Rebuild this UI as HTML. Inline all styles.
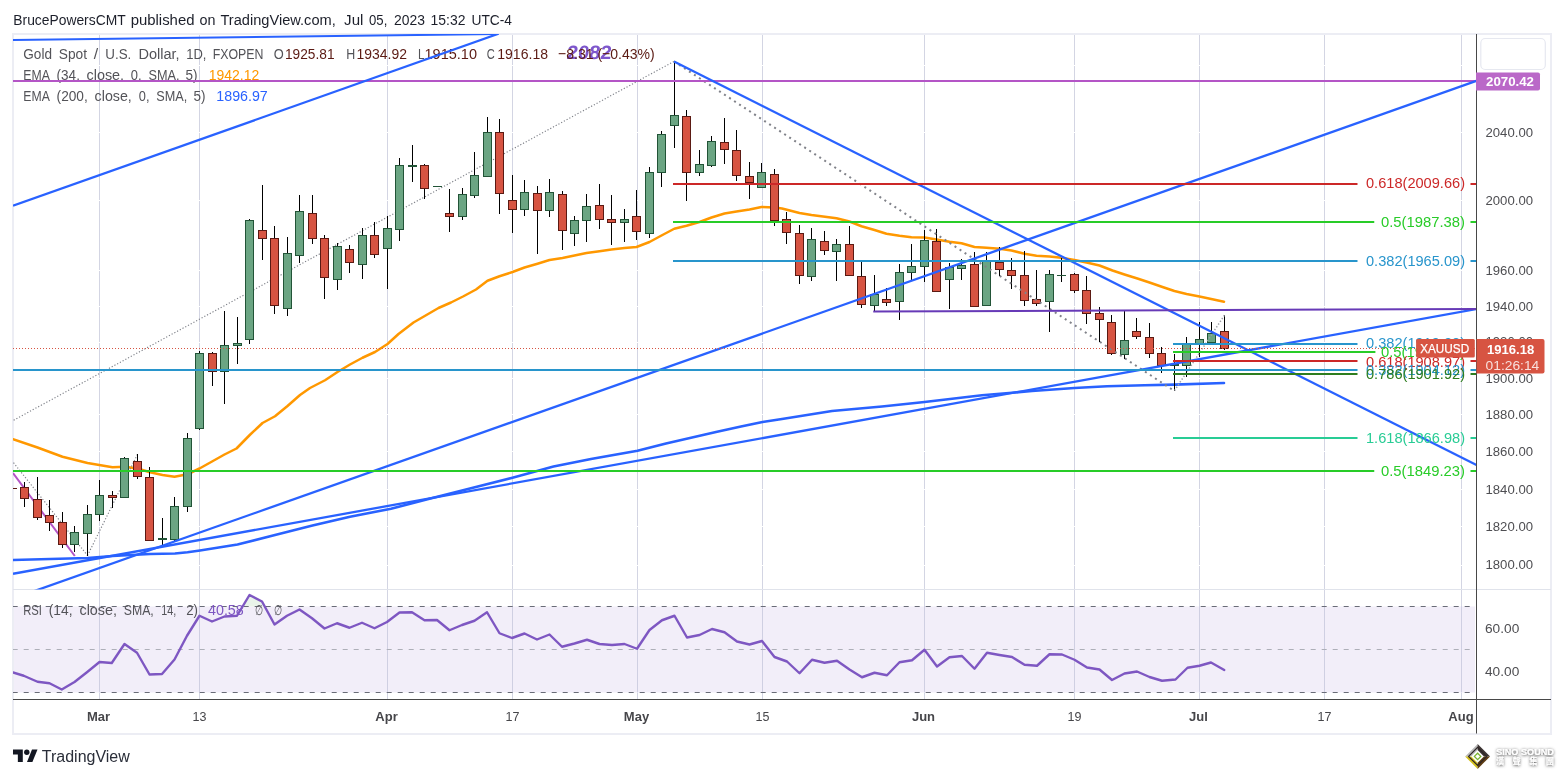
<!DOCTYPE html>
<html lang="en"><head><meta charset="utf-8"><title>XAUUSD chart</title>
<style>html,body{margin:0;padding:0;background:#fff}body{width:1564px;height:778px;position:relative;overflow:hidden}</style></head>
<body>
<svg width="1564" height="778" viewBox="0 0 1564 778" font-family="Liberation Sans, Arial, sans-serif" style="position:absolute;left:0;top:0">
<defs><clipPath id="main"><rect x="13" y="34" width="1463" height="555.5"/></clipPath><clipPath id="rsi"><rect x="13" y="590" width="1463" height="109"/></clipPath></defs>
<text x="13.3" y="24.5" font-size="14" fill="#1c1f2a" textLength="112.38" lengthAdjust="spacingAndGlyphs" >BrucePowersCMT</text>
<text x="130.66" y="24.5" font-size="14" fill="#1c1f2a" textLength="63.84" lengthAdjust="spacingAndGlyphs" >published</text>
<text x="199.49" y="24.5" font-size="14" fill="#1c1f2a" textLength="15.96" lengthAdjust="spacingAndGlyphs" >on</text>
<text x="220.43" y="24.5" font-size="14" fill="#1c1f2a" textLength="115.37" lengthAdjust="spacingAndGlyphs" >TradingView.com,</text>
<text x="344.12" y="24.5" font-size="14" fill="#1c1f2a" textLength="19.28" lengthAdjust="spacingAndGlyphs" >Jul</text>
<text x="369.05" y="24.5" font-size="14" fill="#1c1f2a" textLength="18.29" lengthAdjust="spacingAndGlyphs" >05,</text>
<text x="393.99" y="24.5" font-size="14" fill="#1c1f2a" textLength="30.92" lengthAdjust="spacingAndGlyphs" >2023</text>
<text x="430.56" y="24.5" font-size="14" fill="#1c1f2a" textLength="34.91" lengthAdjust="spacingAndGlyphs" >15:32</text>
<text x="471.46" y="24.5" font-size="14" fill="#1c1f2a" textLength="40.56" lengthAdjust="spacingAndGlyphs" >UTC-4</text>
<rect x="13" y="34" width="1538" height="700" fill="#fff" stroke="#ecedf4" stroke-width="2"/>
<line x1="99.5" y1="35" x2="99.5" y2="699" stroke="#d3d5e3" stroke-width="1"/>
<line x1="199.5" y1="35" x2="199.5" y2="699" stroke="#d3d5e3" stroke-width="1"/>
<line x1="387.5" y1="35" x2="387.5" y2="699" stroke="#d3d5e3" stroke-width="1"/>
<line x1="512.5" y1="35" x2="512.5" y2="699" stroke="#d3d5e3" stroke-width="1"/>
<line x1="637.5" y1="35" x2="637.5" y2="699" stroke="#d3d5e3" stroke-width="1"/>
<line x1="762.5" y1="35" x2="762.5" y2="699" stroke="#d3d5e3" stroke-width="1"/>
<line x1="924.5" y1="35" x2="924.5" y2="699" stroke="#d3d5e3" stroke-width="1"/>
<line x1="1074.5" y1="35" x2="1074.5" y2="699" stroke="#d3d5e3" stroke-width="1"/>
<line x1="1199.5" y1="35" x2="1199.5" y2="699" stroke="#d3d5e3" stroke-width="1"/>
<line x1="1324.5" y1="35" x2="1324.5" y2="699" stroke="#d3d5e3" stroke-width="1"/>
<line x1="1461.5" y1="35" x2="1461.5" y2="699" stroke="#d3d5e3" stroke-width="1"/>
<line x1="14" y1="65.5" x2="1476" y2="65.5" stroke="#fff" stroke-width="1"/>
<line x1="14" y1="132.5" x2="1476" y2="132.5" stroke="#fff" stroke-width="1"/>
<line x1="14" y1="200.5" x2="1476" y2="200.5" stroke="#fff" stroke-width="1"/>
<line x1="14" y1="270.5" x2="1476" y2="270.5" stroke="#fff" stroke-width="1"/>
<line x1="14" y1="306.5" x2="1476" y2="306.5" stroke="#fff" stroke-width="1"/>
<line x1="14" y1="342.5" x2="1476" y2="342.5" stroke="#fff" stroke-width="1"/>
<line x1="14" y1="378.5" x2="1476" y2="378.5" stroke="#fff" stroke-width="1"/>
<line x1="14" y1="414.5" x2="1476" y2="414.5" stroke="#fff" stroke-width="1"/>
<line x1="14" y1="451.5" x2="1476" y2="451.5" stroke="#fff" stroke-width="1"/>
<line x1="14" y1="489.5" x2="1476" y2="489.5" stroke="#fff" stroke-width="1"/>
<line x1="14" y1="526.5" x2="1476" y2="526.5" stroke="#fff" stroke-width="1"/>
<line x1="14" y1="565.5" x2="1476" y2="565.5" stroke="#fff" stroke-width="1"/>
<line x1="14" y1="628.5" x2="1476" y2="628.5" stroke="#fff" stroke-width="1"/>
<line x1="14" y1="671.5" x2="1476" y2="671.5" stroke="#fff" stroke-width="1"/>
<line x1="13" y1="589.5" x2="1551" y2="589.5" stroke="#e0e3eb" stroke-width="1"/>
<g transform="translate(566.3,58.9) skewX(-7)">
<text x="0" y="0" font-size="19.3" fill="#7349c8" font-weight="700" textLength="44.5" lengthAdjust="spacingAndGlyphs" fill-opacity="0.92">2082</text>
</g>
<text x="23.3" y="59" font-size="15.4" fill="#535358" textLength="28.7" lengthAdjust="spacingAndGlyphs" >Gold</text>
<text x="58.75" y="59" font-size="15.4" fill="#535358" textLength="28.25" lengthAdjust="spacingAndGlyphs" >Spot</text>
<text x="93.7" y="59" font-size="15.4" fill="#535358" textLength="4.4" lengthAdjust="spacingAndGlyphs" >/</text>
<text x="105.3" y="59" font-size="15.4" fill="#535358" textLength="26.0" lengthAdjust="spacingAndGlyphs" >U.S.</text>
<text x="138.4" y="59" font-size="15.4" fill="#535358" textLength="41.2" lengthAdjust="spacingAndGlyphs" >Dollar,</text>
<text x="186.2" y="59" font-size="15.4" fill="#535358" textLength="20.2" lengthAdjust="spacingAndGlyphs" >1D,</text>
<text x="212.7" y="59" font-size="15.4" fill="#535358" textLength="50.8" lengthAdjust="spacingAndGlyphs" >FXOPEN</text>
<text x="273.75" y="59" font-size="15.4" fill="#535358" textLength="10" lengthAdjust="spacingAndGlyphs" >O</text>
<text x="285" y="59" font-size="15.4" fill="#5b1a13" textLength="49.5" lengthAdjust="spacingAndGlyphs" >1925.81</text>
<text x="346.25" y="59" font-size="15.4" fill="#535358" textLength="9" lengthAdjust="spacingAndGlyphs" >H</text>
<text x="356.5" y="59" font-size="15.4" fill="#5b1a13" textLength="50.5" lengthAdjust="spacingAndGlyphs" >1934.92</text>
<text x="418" y="59" font-size="15.4" fill="#535358" textLength="6.5" lengthAdjust="spacingAndGlyphs" >L</text>
<text x="424.5" y="59" font-size="15.4" fill="#5b1a13" textLength="52.5" lengthAdjust="spacingAndGlyphs" >1915.10</text>
<text x="486.75" y="59" font-size="15.4" fill="#535358" textLength="8" lengthAdjust="spacingAndGlyphs" >C</text>
<text x="497.25" y="59" font-size="15.4" fill="#5b1a13" textLength="50.75" lengthAdjust="spacingAndGlyphs" >1916.18</text>
<text x="558" y="59" font-size="15.4" fill="#5b1a13" textLength="96.75" lengthAdjust="spacingAndGlyphs" >−8.31 (−0.43%)</text>
<text x="23.3" y="79.5" font-size="14" fill="#535358" textLength="26.5" lengthAdjust="spacingAndGlyphs" >EMA</text>
<text x="56.6" y="79.5" font-size="14" fill="#535358" textLength="23.3" lengthAdjust="spacingAndGlyphs" >(34,</text>
<text x="86.5" y="79.5" font-size="14" fill="#535358" textLength="37.6" lengthAdjust="spacingAndGlyphs" >close,</text>
<text x="130.7" y="79.5" font-size="14" fill="#535358" textLength="10.8" lengthAdjust="spacingAndGlyphs" >0,</text>
<text x="148.6" y="79.5" font-size="14" fill="#535358" textLength="31.0" lengthAdjust="spacingAndGlyphs" >SMA,</text>
<text x="185.5" y="79.5" font-size="14" fill="#535358" textLength="12.0" lengthAdjust="spacingAndGlyphs" >5)</text>
<text x="208.8" y="79.5" font-size="14" fill="#ff9800" textLength="50.5" lengthAdjust="spacingAndGlyphs" >1942.12</text>
<text x="23.3" y="100.5" font-size="14" fill="#535358" textLength="26.5" lengthAdjust="spacingAndGlyphs" >EMA</text>
<text x="56.6" y="100.5" font-size="14" fill="#535358" textLength="31.2" lengthAdjust="spacingAndGlyphs" >(200,</text>
<text x="94.6" y="100.5" font-size="14" fill="#535358" textLength="37.2" lengthAdjust="spacingAndGlyphs" >close,</text>
<text x="138.8" y="100.5" font-size="14" fill="#535358" textLength="10.7" lengthAdjust="spacingAndGlyphs" >0,</text>
<text x="156.3" y="100.5" font-size="14" fill="#535358" textLength="31.0" lengthAdjust="spacingAndGlyphs" >SMA,</text>
<text x="193.6" y="100.5" font-size="14" fill="#535358" textLength="12.0" lengthAdjust="spacingAndGlyphs" >5)</text>
<text x="216.3" y="100.5" font-size="14" fill="#2962ff" textLength="51.5" lengthAdjust="spacingAndGlyphs" >1896.97</text>
<g clip-path="url(#main)">
<polyline fill="none" stroke="#ff9800" stroke-width="2.5" stroke-linejoin="round" stroke-linecap="round"  points="13,439.25 37.5,447.5 62.5,456.75 87.5,463 112.5,467.25 125,466.75 137.5,468.5 150,472.25 162.5,475 174.5,476.75 187.5,474.25 199.5,468.5 212.5,461.25 224.5,454.5 236.5,448.5 250,434.75 262.5,423 275,416.25 287.5,406 300,395 310,388 325,380.25 337.5,372 350,364.5 362.5,357.75 375,352 387.5,344 398.5,334 413.5,322.5 438.5,308 451,302.5 463.5,296.25 476,289.5 487.5,280.75 499.5,276.25 512.5,272 524.5,267.5 537.5,263.75 549.5,260 562.5,258 574.5,255.5 586.5,253 599.5,251.25 611.5,249.5 624.5,248 636.5,247 649.5,242 661.5,235.5 674.25,228.75 686.5,225.75 699.5,222 711.5,217.5 724.5,213.5 736.5,211.5 749.5,209.5 761.5,207 774.5,207.5 782,208.5 799.5,213 811.5,215 836.5,218.25 849.5,221.5 861.5,226.25 874.5,230 886.5,233.75 899.5,235.75 911.5,237.25 924.5,237.5 936.5,239.5 949.5,241.75 961.5,243.25 974.5,247 986.5,247.75 999.5,248.75 1011.5,250.5 1024.5,253.75 1036.5,255.75 1049.5,256.5 1061.5,257.75 1074.5,260 1086.5,262.5 1099.5,265.5 1112.5,270.5 1124.5,274.5 1137.4,278.5 1149.5,282.5 1162.5,287 1174.4,291 1186.6,294 1199.5,296.5 1212.4,299.2 1224,301.7"/>
<polyline fill="none" stroke="#2962ff" stroke-width="2.6" stroke-linejoin="round" stroke-linecap="round"  points="13,560 87.5,558 112.5,556 150,554 175,553.5 187.5,552.25 200,550.5 237.5,544.5 275,535 312.5,525.5 350,516.75 391,508.75 428.5,499 466,489.5 512.5,477.75 553.5,466.5 591,459 637.5,450.75 666,443.5 691,437.75 716,432 741,426.5 762.5,422 782,419 832,411 882,406.5 924.5,402 982,395.25 1032,391 1074.5,388 1107,386.3 1144.5,385.3 1174.4,384.6 1224,383"/>
<line x1="0" y1="427.6" x2="674" y2="61.4" stroke="#7e8088" stroke-width="1.15" stroke-dasharray="1.2 1.9"/>
<line x1="0" y1="445.7" x2="87.5" y2="555.5" stroke="#7e8088" stroke-width="1.15" stroke-dasharray="1.2 1.9"/>
<line x1="87.5" y1="555.5" x2="137.5" y2="454.25" stroke="#7e8088" stroke-width="1.15" stroke-dasharray="1.2 1.9"/>
<line x1="13" y1="473" x2="74.8" y2="556" stroke="#b455c6" stroke-width="2" />
<rect x="13" y="488" width="4" height="1" fill="#5b1a13"/>
<rect x="24" y="482" width="1" height="25" fill="#000"/>
<rect x="20.5" y="487.5" width="8" height="11" fill="#d75442" stroke="#5b1a13" stroke-width="1"/>
<rect x="37" y="477" width="1" height="43" fill="#000"/>
<rect x="33.5" y="499.5" width="8" height="18" fill="#d75442" stroke="#5b1a13" stroke-width="1"/>
<rect x="49" y="500" width="1" height="31" fill="#000"/>
<rect x="45.5" y="515.5" width="8" height="7" fill="#d75442" stroke="#5b1a13" stroke-width="1"/>
<rect x="62" y="512" width="1" height="36" fill="#000"/>
<rect x="58.5" y="522.5" width="8" height="22" fill="#d75442" stroke="#5b1a13" stroke-width="1"/>
<rect x="74" y="526" width="1" height="26" fill="#000"/>
<rect x="70.5" y="532.5" width="8" height="12" fill="#6ba583" stroke="#225437" stroke-width="1"/>
<rect x="87" y="505" width="1" height="51" fill="#000"/>
<rect x="83.5" y="514.5" width="8" height="19" fill="#6ba583" stroke="#225437" stroke-width="1"/>
<rect x="99" y="480" width="1" height="41" fill="#000"/>
<rect x="95.5" y="495.5" width="8" height="19" fill="#6ba583" stroke="#225437" stroke-width="1"/>
<rect x="112" y="491" width="1" height="17" fill="#000"/>
<rect x="108.5" y="495.5" width="8" height="2" fill="#d75442" stroke="#5b1a13" stroke-width="1"/>
<rect x="124" y="457" width="1" height="41" fill="#000"/>
<rect x="120.5" y="458.5" width="8" height="39" fill="#6ba583" stroke="#225437" stroke-width="1"/>
<rect x="137" y="454" width="1" height="25" fill="#000"/>
<rect x="133.5" y="461.5" width="8" height="15" fill="#d75442" stroke="#5b1a13" stroke-width="1"/>
<rect x="149" y="467" width="1" height="74" fill="#000"/>
<rect x="145.5" y="477.5" width="8" height="63" fill="#d75442" stroke="#5b1a13" stroke-width="1"/>
<rect x="162" y="518" width="1" height="28" fill="#000"/>
<rect x="158" y="538" width="9" height="2" fill="#225437"/>
<rect x="174" y="497" width="1" height="44" fill="#000"/>
<rect x="170.5" y="506.5" width="8" height="33" fill="#6ba583" stroke="#225437" stroke-width="1"/>
<rect x="187" y="433" width="1" height="79" fill="#000"/>
<rect x="183.5" y="438.5" width="8" height="68" fill="#6ba583" stroke="#225437" stroke-width="1"/>
<rect x="199" y="351" width="1" height="79" fill="#000"/>
<rect x="195.5" y="353.5" width="8" height="75" fill="#6ba583" stroke="#225437" stroke-width="1"/>
<rect x="212" y="352" width="1" height="34" fill="#000"/>
<rect x="208.5" y="353.5" width="8" height="18" fill="#d75442" stroke="#5b1a13" stroke-width="1"/>
<rect x="224" y="311" width="1" height="93" fill="#000"/>
<rect x="220.5" y="345.5" width="8" height="26" fill="#6ba583" stroke="#225437" stroke-width="1"/>
<rect x="237" y="317" width="1" height="47" fill="#000"/>
<rect x="233.5" y="343.5" width="8" height="2" fill="#6ba583" stroke="#225437" stroke-width="1"/>
<rect x="249" y="219" width="1" height="125" fill="#000"/>
<rect x="245.5" y="220.5" width="8" height="119" fill="#6ba583" stroke="#225437" stroke-width="1"/>
<rect x="262" y="185" width="1" height="75" fill="#000"/>
<rect x="258.5" y="230.5" width="8" height="8" fill="#d75442" stroke="#5b1a13" stroke-width="1"/>
<rect x="274" y="226" width="1" height="88" fill="#000"/>
<rect x="270.5" y="238.5" width="8" height="67" fill="#d75442" stroke="#5b1a13" stroke-width="1"/>
<rect x="287" y="237" width="1" height="79" fill="#000"/>
<rect x="283.5" y="253.5" width="8" height="55" fill="#6ba583" stroke="#225437" stroke-width="1"/>
<rect x="299" y="195" width="1" height="68" fill="#000"/>
<rect x="295.5" y="211.5" width="8" height="44" fill="#6ba583" stroke="#225437" stroke-width="1"/>
<rect x="312" y="195" width="1" height="49" fill="#000"/>
<rect x="308.5" y="213.5" width="8" height="25" fill="#d75442" stroke="#5b1a13" stroke-width="1"/>
<rect x="324" y="235" width="1" height="64" fill="#000"/>
<rect x="320.5" y="238.5" width="8" height="39" fill="#d75442" stroke="#5b1a13" stroke-width="1"/>
<rect x="337" y="243" width="1" height="47" fill="#000"/>
<rect x="333.5" y="246.5" width="8" height="33" fill="#6ba583" stroke="#225437" stroke-width="1"/>
<rect x="349" y="245" width="1" height="28" fill="#000"/>
<rect x="345.5" y="249.5" width="8" height="13" fill="#d75442" stroke="#5b1a13" stroke-width="1"/>
<rect x="362" y="228" width="1" height="51" fill="#000"/>
<rect x="358.5" y="235.5" width="8" height="29" fill="#6ba583" stroke="#225437" stroke-width="1"/>
<rect x="374" y="222" width="1" height="36" fill="#000"/>
<rect x="370.5" y="235.5" width="8" height="19" fill="#d75442" stroke="#5b1a13" stroke-width="1"/>
<rect x="387" y="216" width="1" height="73" fill="#000"/>
<rect x="383.5" y="228.5" width="8" height="20" fill="#6ba583" stroke="#225437" stroke-width="1"/>
<rect x="399" y="158" width="1" height="83" fill="#000"/>
<rect x="395.5" y="165.5" width="8" height="64" fill="#6ba583" stroke="#225437" stroke-width="1"/>
<rect x="412" y="145" width="1" height="37" fill="#000"/>
<rect x="408" y="165" width="9" height="2" fill="#225437"/>
<rect x="424" y="164" width="1" height="35" fill="#000"/>
<rect x="420.5" y="165.5" width="8" height="23" fill="#d75442" stroke="#5b1a13" stroke-width="1"/>
<rect x="437" y="186" width="1" height="1" fill="#000"/>
<rect x="433" y="186" width="9" height="1" fill="#225437"/>
<rect x="449" y="189" width="1" height="43" fill="#000"/>
<rect x="445.5" y="213.5" width="8" height="3" fill="#d75442" stroke="#5b1a13" stroke-width="1"/>
<rect x="462" y="188" width="1" height="32" fill="#000"/>
<rect x="458.5" y="194.5" width="8" height="22" fill="#6ba583" stroke="#225437" stroke-width="1"/>
<rect x="474" y="152" width="1" height="46" fill="#000"/>
<rect x="470.5" y="175.5" width="8" height="20" fill="#6ba583" stroke="#225437" stroke-width="1"/>
<rect x="487" y="117" width="1" height="60" fill="#000"/>
<rect x="483.5" y="132.5" width="8" height="44" fill="#6ba583" stroke="#225437" stroke-width="1"/>
<rect x="499" y="119" width="1" height="95" fill="#000"/>
<rect x="495.5" y="132.5" width="8" height="61" fill="#d75442" stroke="#5b1a13" stroke-width="1"/>
<rect x="512" y="175" width="1" height="58" fill="#000"/>
<rect x="508.5" y="200.5" width="8" height="9" fill="#d75442" stroke="#5b1a13" stroke-width="1"/>
<rect x="524" y="180" width="1" height="36" fill="#000"/>
<rect x="520.5" y="192.5" width="8" height="17" fill="#6ba583" stroke="#225437" stroke-width="1"/>
<rect x="537" y="186" width="1" height="68" fill="#000"/>
<rect x="533.5" y="193.5" width="8" height="17" fill="#d75442" stroke="#5b1a13" stroke-width="1"/>
<rect x="549" y="179" width="1" height="38" fill="#000"/>
<rect x="545.5" y="192.5" width="8" height="18" fill="#6ba583" stroke="#225437" stroke-width="1"/>
<rect x="562" y="191" width="1" height="59" fill="#000"/>
<rect x="558.5" y="194.5" width="8" height="36" fill="#d75442" stroke="#5b1a13" stroke-width="1"/>
<rect x="574" y="216" width="1" height="30" fill="#000"/>
<rect x="570.5" y="220.5" width="8" height="13" fill="#6ba583" stroke="#225437" stroke-width="1"/>
<rect x="586" y="194" width="1" height="48" fill="#000"/>
<rect x="582.5" y="206.5" width="8" height="14" fill="#6ba583" stroke="#225437" stroke-width="1"/>
<rect x="599" y="184" width="1" height="45" fill="#000"/>
<rect x="595.5" y="205.5" width="8" height="14" fill="#d75442" stroke="#5b1a13" stroke-width="1"/>
<rect x="611" y="195" width="1" height="50" fill="#000"/>
<rect x="607.5" y="219.5" width="8" height="3" fill="#d75442" stroke="#5b1a13" stroke-width="1"/>
<rect x="624" y="209" width="1" height="33" fill="#000"/>
<rect x="620.5" y="219.5" width="8" height="3" fill="#6ba583" stroke="#225437" stroke-width="1"/>
<rect x="636" y="190" width="1" height="50" fill="#000"/>
<rect x="632.5" y="216.5" width="8" height="15" fill="#d75442" stroke="#5b1a13" stroke-width="1"/>
<rect x="649" y="167" width="1" height="71" fill="#000"/>
<rect x="645.5" y="172.5" width="8" height="61" fill="#6ba583" stroke="#225437" stroke-width="1"/>
<rect x="661" y="131" width="1" height="56" fill="#000"/>
<rect x="657.5" y="134.5" width="8" height="38" fill="#6ba583" stroke="#225437" stroke-width="1"/>
<rect x="674" y="61" width="1" height="87" fill="#000"/>
<rect x="670.5" y="115.5" width="8" height="10" fill="#6ba583" stroke="#225437" stroke-width="1"/>
<rect x="686" y="110" width="1" height="91" fill="#000"/>
<rect x="682.5" y="116.5" width="8" height="56" fill="#d75442" stroke="#5b1a13" stroke-width="1"/>
<rect x="699" y="150" width="1" height="26" fill="#000"/>
<rect x="695.5" y="164.5" width="8" height="8" fill="#6ba583" stroke="#225437" stroke-width="1"/>
<rect x="711" y="136" width="1" height="31" fill="#000"/>
<rect x="707.5" y="141.5" width="8" height="24" fill="#6ba583" stroke="#225437" stroke-width="1"/>
<rect x="724" y="118" width="1" height="46" fill="#000"/>
<rect x="720.5" y="142.5" width="8" height="7" fill="#d75442" stroke="#5b1a13" stroke-width="1"/>
<rect x="736" y="130" width="1" height="51" fill="#000"/>
<rect x="732.5" y="150.5" width="8" height="25" fill="#d75442" stroke="#5b1a13" stroke-width="1"/>
<rect x="749" y="162" width="1" height="37" fill="#000"/>
<rect x="745.5" y="176.5" width="8" height="6" fill="#d75442" stroke="#5b1a13" stroke-width="1"/>
<rect x="761" y="163" width="1" height="25" fill="#000"/>
<rect x="757.5" y="172.5" width="8" height="15" fill="#6ba583" stroke="#225437" stroke-width="1"/>
<rect x="774" y="169" width="1" height="57" fill="#000"/>
<rect x="770.5" y="174.5" width="8" height="46" fill="#d75442" stroke="#5b1a13" stroke-width="1"/>
<rect x="786" y="212" width="1" height="32" fill="#000"/>
<rect x="782.5" y="219.5" width="8" height="13" fill="#d75442" stroke="#5b1a13" stroke-width="1"/>
<rect x="799" y="225" width="1" height="59" fill="#000"/>
<rect x="795.5" y="233.5" width="8" height="42" fill="#d75442" stroke="#5b1a13" stroke-width="1"/>
<rect x="811" y="228" width="1" height="53" fill="#000"/>
<rect x="807.5" y="239.5" width="8" height="37" fill="#6ba583" stroke="#225437" stroke-width="1"/>
<rect x="824" y="231" width="1" height="24" fill="#000"/>
<rect x="820.5" y="241.5" width="8" height="9" fill="#d75442" stroke="#5b1a13" stroke-width="1"/>
<rect x="836" y="239" width="1" height="42" fill="#000"/>
<rect x="832.5" y="244.5" width="8" height="7" fill="#6ba583" stroke="#225437" stroke-width="1"/>
<rect x="849" y="226" width="1" height="50" fill="#000"/>
<rect x="845.5" y="244.5" width="8" height="31" fill="#d75442" stroke="#5b1a13" stroke-width="1"/>
<rect x="861" y="262" width="1" height="46" fill="#000"/>
<rect x="857.5" y="276.5" width="8" height="28" fill="#d75442" stroke="#5b1a13" stroke-width="1"/>
<rect x="874" y="275" width="1" height="36" fill="#000"/>
<rect x="870.5" y="294.5" width="8" height="11" fill="#6ba583" stroke="#225437" stroke-width="1"/>
<rect x="886" y="288" width="1" height="18" fill="#000"/>
<rect x="882.5" y="299.5" width="8" height="3" fill="#d75442" stroke="#5b1a13" stroke-width="1"/>
<rect x="899" y="264" width="1" height="56" fill="#000"/>
<rect x="895.5" y="272.5" width="8" height="29" fill="#6ba583" stroke="#225437" stroke-width="1"/>
<rect x="911" y="244" width="1" height="36" fill="#000"/>
<rect x="907.5" y="266.5" width="8" height="6" fill="#6ba583" stroke="#225437" stroke-width="1"/>
<rect x="924" y="230" width="1" height="52" fill="#000"/>
<rect x="920.5" y="240.5" width="8" height="26" fill="#6ba583" stroke="#225437" stroke-width="1"/>
<rect x="936" y="229" width="1" height="63" fill="#000"/>
<rect x="932.5" y="241.5" width="8" height="50" fill="#d75442" stroke="#5b1a13" stroke-width="1"/>
<rect x="949" y="263" width="1" height="46" fill="#000"/>
<rect x="945.5" y="267.5" width="8" height="12" fill="#6ba583" stroke="#225437" stroke-width="1"/>
<rect x="961" y="259" width="1" height="21" fill="#000"/>
<rect x="957.5" y="265.5" width="8" height="3" fill="#6ba583" stroke="#225437" stroke-width="1"/>
<rect x="974" y="252" width="1" height="55" fill="#000"/>
<rect x="970.5" y="264.5" width="8" height="42" fill="#d75442" stroke="#5b1a13" stroke-width="1"/>
<rect x="986" y="252" width="1" height="54" fill="#000"/>
<rect x="982.5" y="261.5" width="8" height="44" fill="#6ba583" stroke="#225437" stroke-width="1"/>
<rect x="999" y="247" width="1" height="29" fill="#000"/>
<rect x="995.5" y="262.5" width="8" height="7" fill="#d75442" stroke="#5b1a13" stroke-width="1"/>
<rect x="1011" y="258" width="1" height="31" fill="#000"/>
<rect x="1007.5" y="270.5" width="8" height="5" fill="#d75442" stroke="#5b1a13" stroke-width="1"/>
<rect x="1024" y="251" width="1" height="55" fill="#000"/>
<rect x="1020.5" y="275.5" width="8" height="25" fill="#d75442" stroke="#5b1a13" stroke-width="1"/>
<rect x="1036" y="270" width="1" height="36" fill="#000"/>
<rect x="1032.5" y="299.5" width="8" height="4" fill="#d75442" stroke="#5b1a13" stroke-width="1"/>
<rect x="1049" y="270" width="1" height="62" fill="#000"/>
<rect x="1045.5" y="274.5" width="8" height="27" fill="#6ba583" stroke="#225437" stroke-width="1"/>
<rect x="1061" y="258" width="1" height="24" fill="#000"/>
<rect x="1057" y="275" width="9" height="1" fill="#225437"/>
<rect x="1074" y="273" width="1" height="20" fill="#000"/>
<rect x="1070.5" y="274.5" width="8" height="16" fill="#d75442" stroke="#5b1a13" stroke-width="1"/>
<rect x="1086" y="276" width="1" height="48" fill="#000"/>
<rect x="1082.5" y="290.5" width="8" height="23" fill="#d75442" stroke="#5b1a13" stroke-width="1"/>
<rect x="1099" y="307" width="1" height="35" fill="#000"/>
<rect x="1095.5" y="313.5" width="8" height="6" fill="#d75442" stroke="#5b1a13" stroke-width="1"/>
<rect x="1111" y="315" width="1" height="40" fill="#000"/>
<rect x="1107.5" y="322.5" width="8" height="31" fill="#d75442" stroke="#5b1a13" stroke-width="1"/>
<rect x="1124" y="311" width="1" height="48" fill="#000"/>
<rect x="1120.5" y="340.5" width="8" height="14" fill="#6ba583" stroke="#225437" stroke-width="1"/>
<rect x="1136" y="318" width="1" height="21" fill="#000"/>
<rect x="1132.5" y="331.5" width="8" height="5" fill="#d75442" stroke="#5b1a13" stroke-width="1"/>
<rect x="1149" y="323" width="1" height="35" fill="#000"/>
<rect x="1145.5" y="337.5" width="8" height="16" fill="#d75442" stroke="#5b1a13" stroke-width="1"/>
<rect x="1161" y="347" width="1" height="26" fill="#000"/>
<rect x="1157.5" y="353.5" width="8" height="12" fill="#d75442" stroke="#5b1a13" stroke-width="1"/>
<rect x="1174" y="354" width="1" height="37" fill="#000"/>
<rect x="1170" y="364" width="9" height="2" fill="#225437"/>
<rect x="1186" y="337" width="1" height="40" fill="#000"/>
<rect x="1182.5" y="344.5" width="8" height="21" fill="#6ba583" stroke="#225437" stroke-width="1"/>
<rect x="1199" y="322" width="1" height="35" fill="#000"/>
<rect x="1195.5" y="339.5" width="8" height="4" fill="#6ba583" stroke="#225437" stroke-width="1"/>
<rect x="1211" y="322" width="1" height="21" fill="#000"/>
<rect x="1207.5" y="333.5" width="8" height="9" fill="#6ba583" stroke="#225437" stroke-width="1"/>
<rect x="1224" y="315" width="1" height="35" fill="#000"/>
<rect x="1220.5" y="331.5" width="8" height="17" fill="#d75442" stroke="#5b1a13" stroke-width="1"/>
<line x1="1174.5" y1="390.7" x2="1224.5" y2="315.2" stroke="#9fa1a8" stroke-width="1.5" stroke-dasharray="1.4 1.9"/>
<line x1="674" y1="61.4" x2="1174" y2="390.7" stroke="#808289" stroke-width="2" stroke-dasharray="2 4"/>
<line x1="13" y1="81" x2="1476" y2="81" stroke="#b455c6" stroke-width="2" />
<line x1="13" y1="40" x2="498.5" y2="34" stroke="#2962ff" stroke-width="2" />
<line x1="13" y1="205.75" x2="498.5" y2="33.75" stroke="#2962ff" stroke-width="2.3" />
<line x1="13" y1="598.6" x2="1476.5" y2="80.9" stroke="#2962ff" stroke-width="2.3" />
<line x1="13" y1="573.75" x2="1476.5" y2="309" stroke="#2962ff" stroke-width="2.3" />
<line x1="674" y1="61.5" x2="1476.5" y2="465" stroke="#2962ff" stroke-width="2.3" />
<line x1="873.25" y1="311.5" x2="1476.5" y2="309" stroke="#673ab7" stroke-width="2" />
<line x1="673" y1="184" x2="1357.5" y2="184" stroke="#cc2828" stroke-width="2" />
<line x1="1470.5" y1="184" x2="1476.5" y2="184" stroke="#cc2828" stroke-width="2" />
<line x1="673" y1="222" x2="1374.25" y2="222" stroke="#28cc28" stroke-width="2" />
<line x1="1470.5" y1="222" x2="1476.5" y2="222" stroke="#28cc28" stroke-width="2" />
<line x1="673" y1="261" x2="1357.5" y2="261" stroke="#2895cc" stroke-width="2" />
<line x1="1470.5" y1="261" x2="1476.5" y2="261" stroke="#2895cc" stroke-width="2" />
<line x1="13" y1="370" x2="1357.5" y2="370" stroke="#2895cc" stroke-width="2" />
<line x1="1470.5" y1="370" x2="1476.5" y2="370" stroke="#2895cc" stroke-width="2" />
<line x1="13" y1="471" x2="1374.25" y2="471" stroke="#28cc28" stroke-width="2" />
<line x1="1470.5" y1="471" x2="1476.5" y2="471" stroke="#28cc28" stroke-width="2" />
<line x1="1173" y1="344" x2="1357.5" y2="344" stroke="#2895cc" stroke-width="2" />
<line x1="1173" y1="352" x2="1375.4" y2="352" stroke="#28cc28" stroke-width="2" />
<line x1="1173" y1="361" x2="1357.5" y2="361" stroke="#cc2828" stroke-width="2" />
<line x1="1470.5" y1="361" x2="1476.5" y2="361" stroke="#cc2828" stroke-width="2" />
<line x1="1173" y1="374" x2="1357.5" y2="374" stroke="#2e7d1e" stroke-width="2" />
<line x1="1470.5" y1="374" x2="1476.5" y2="374" stroke="#2e7d1e" stroke-width="2" />
<line x1="1173" y1="438" x2="1357.5" y2="438" stroke="#28cc95" stroke-width="2" />
<line x1="1470.5" y1="438" x2="1476.5" y2="438" stroke="#28cc95" stroke-width="2" />
<line x1="13" y1="348.5" x2="1476" y2="348.5" stroke="#d75442" stroke-width="1" stroke-dasharray="1 2"/>
<text x="1366" y="188.2" font-size="14.5" fill="#cc2828" textLength="99" lengthAdjust="spacingAndGlyphs" >0.618(2009.66)</text>
<text x="1381" y="226.95" font-size="14.5" fill="#28cc28" textLength="84" lengthAdjust="spacingAndGlyphs" >0.5(1987.38)</text>
<text x="1366" y="265.95" font-size="14.5" fill="#2895cc" textLength="99" lengthAdjust="spacingAndGlyphs" >0.382(1965.09)</text>
<text x="1366" y="348.0" font-size="14.5" fill="#2895cc" textLength="99" lengthAdjust="spacingAndGlyphs" >0.382(1919.28)</text>
<text x="1381" y="357.2" font-size="14.5" fill="#28cc28" textLength="84" lengthAdjust="spacingAndGlyphs" >0.5(1914.13)</text>
<text x="1366" y="366.5" font-size="14.5" fill="#cc2828" textLength="99" lengthAdjust="spacingAndGlyphs" >0.618(1908.97)</text>
<text x="1366" y="375.0" font-size="14.5" fill="#2895cc" textLength="99" lengthAdjust="spacingAndGlyphs" >0.382(1904.12)</text>
<text x="1366" y="379.4" font-size="14.5" fill="#2e7d1e" textLength="99" lengthAdjust="spacingAndGlyphs" >0.786(1901.92)</text>
<text x="1366" y="443.2" font-size="14.5" fill="#28cc95" textLength="99" lengthAdjust="spacingAndGlyphs" >1.618(1866.98)</text>
<text x="1381" y="475.95" font-size="14.5" fill="#28cc28" textLength="84" lengthAdjust="spacingAndGlyphs" >0.5(1849.23)</text>
</g>
<rect x="14" y="606.5" width="1461" height="86" fill="#f2eef9"/>
<line x1="99.5" y1="606" x2="99.5" y2="692" stroke="#cfcfe2" stroke-width="1"/>
<line x1="199.5" y1="606" x2="199.5" y2="692" stroke="#cfcfe2" stroke-width="1"/>
<line x1="387.5" y1="606" x2="387.5" y2="692" stroke="#cfcfe2" stroke-width="1"/>
<line x1="512.5" y1="606" x2="512.5" y2="692" stroke="#cfcfe2" stroke-width="1"/>
<line x1="637.5" y1="606" x2="637.5" y2="692" stroke="#cfcfe2" stroke-width="1"/>
<line x1="762.5" y1="606" x2="762.5" y2="692" stroke="#cfcfe2" stroke-width="1"/>
<line x1="924.5" y1="606" x2="924.5" y2="692" stroke="#cfcfe2" stroke-width="1"/>
<line x1="1074.5" y1="606" x2="1074.5" y2="692" stroke="#cfcfe2" stroke-width="1"/>
<line x1="1199.5" y1="606" x2="1199.5" y2="692" stroke="#cfcfe2" stroke-width="1"/>
<line x1="1324.5" y1="606" x2="1324.5" y2="692" stroke="#cfcfe2" stroke-width="1"/>
<line x1="1461.5" y1="606" x2="1461.5" y2="692" stroke="#cfcfe2" stroke-width="1"/>
<g clip-path="url(#rsi)">
<clipPath id="ob"><rect x="13" y="590" width="1463" height="16.5"/></clipPath>
<polygon clip-path="url(#ob)" fill="#e9f4ea" points="13,672.5 23.75,675.75 37.5,681.75 49.5,683.25 61.75,689.5 74.5,682 87.25,672 99.5,662 111.75,663 124.5,644 137,652.75 149.5,674.5 162,674 174.5,659.5 187,635.75 199.5,615.75 212,621.5 224.5,616.5 237,615.75 249.5,595 262,601.5 274.5,624.5 287,615.75 299.5,609.5 312,618.25 324.5,628.5 337,623.25 349.5,627.75 362,622.75 374.5,628.25 387,622 399.5,612.5 412,612.25 424.5,620.25 437,620 449.5,630.25 462,625 474.5,620.75 487,612.25 499.5,633.25 512,638 524.5,633.5 537,639.5 549.5,634.5 562,646.75 574.5,643.5 587,639.75 599.5,644 612,645 624.5,644 637,648.75 649.5,630 662,620.25 674.5,615.75 687,637.5 699.5,635 712,629 724.5,632.25 737,641.5 749.5,644.5 762,641 774.5,657 787,661.5 799.5,673.25 812,659.75 824.5,662.75 837,660.75 849.5,669.5 862,677.25 874.5,672.75 887,675.25 899.5,662.25 912,660.25 924.5,649.75 937,666.5 949.5,657.25 962,656 974.5,668.75 987,652.75 999.5,655 1012,657 1024.5,664.75 1037,665.75 1049.5,654.25 1062,654.5 1074.5,659.75 1087,667.5 1099.5,669.5 1112,680 1124.5,673.5 1137,671.5 1149.5,677 1162,680.75 1175.5,679.5 1187.5,667.75 1199.5,665.75 1211,662.5 1224.25,670 1224,700 13,700"/>
<line x1="12.7" y1="606.5" x2="1471" y2="606.5" stroke="#696c77" stroke-width="1" stroke-dasharray="5 6"/>
<line x1="12.7" y1="649.5" x2="1471" y2="649.5" stroke="#adafb8" stroke-width="1" stroke-dasharray="5 6"/>
<line x1="12.7" y1="692.5" x2="1471" y2="692.5" stroke="#696c77" stroke-width="1" stroke-dasharray="5 6"/>
<text x="23.25" y="614.5" font-size="14.8" fill="#535358" textLength="18.75" lengthAdjust="spacingAndGlyphs" >RSI</text>
<text x="48.75" y="614.5" font-size="14.8" fill="#535358" textLength="23.75" lengthAdjust="spacingAndGlyphs" >(14,</text>
<text x="79.5" y="614.5" font-size="14.8" fill="#535358" textLength="37.5" lengthAdjust="spacingAndGlyphs" >close,</text>
<text x="123.75" y="614.5" font-size="14.8" fill="#535358" textLength="30.0" lengthAdjust="spacingAndGlyphs" >SMA,</text>
<text x="161.25" y="614.5" font-size="14.8" fill="#535358" textLength="15.0" lengthAdjust="spacingAndGlyphs" >14,</text>
<text x="186.25" y="614.5" font-size="14.8" fill="#535358" textLength="11.75" lengthAdjust="spacingAndGlyphs" >2)</text>
<text x="208" y="614.5" font-size="14.8" fill="#7e57c2" textLength="35.75" lengthAdjust="spacingAndGlyphs" >40.58</text>
<text x="254.5" y="614.5" font-size="14" fill="#535358" textLength="8" lengthAdjust="spacingAndGlyphs" >∅</text>
<text x="273.75" y="614.5" font-size="14" fill="#535358" textLength="8" lengthAdjust="spacingAndGlyphs" >∅</text>
<polyline fill="none" stroke="#7e57c2" stroke-width="2.4" stroke-linejoin="round" stroke-linecap="round"  points="13,672.5 23.75,675.75 37.5,681.75 49.5,683.25 61.75,689.5 74.5,682 87.25,672 99.5,662 111.75,663 124.5,644 137,652.75 149.5,674.5 162,674 174.5,659.5 187,635.75 199.5,615.75 212,621.5 224.5,616.5 237,615.75 249.5,595 262,601.5 274.5,624.5 287,615.75 299.5,609.5 312,618.25 324.5,628.5 337,623.25 349.5,627.75 362,622.75 374.5,628.25 387,622 399.5,612.5 412,612.25 424.5,620.25 437,620 449.5,630.25 462,625 474.5,620.75 487,612.25 499.5,633.25 512,638 524.5,633.5 537,639.5 549.5,634.5 562,646.75 574.5,643.5 587,639.75 599.5,644 612,645 624.5,644 637,648.75 649.5,630 662,620.25 674.5,615.75 687,637.5 699.5,635 712,629 724.5,632.25 737,641.5 749.5,644.5 762,641 774.5,657 787,661.5 799.5,673.25 812,659.75 824.5,662.75 837,660.75 849.5,669.5 862,677.25 874.5,672.75 887,675.25 899.5,662.25 912,660.25 924.5,649.75 937,666.5 949.5,657.25 962,656 974.5,668.75 987,652.75 999.5,655 1012,657 1024.5,664.75 1037,665.75 1049.5,654.25 1062,654.5 1074.5,659.75 1087,667.5 1099.5,669.5 1112,680 1124.5,673.5 1137,671.5 1149.5,677 1162,680.75 1175.5,679.5 1187.5,667.75 1199.5,665.75 1211,662.5 1224.25,670"/>
</g>
<rect x="1476" y="34" width="1" height="699.5" fill="#474747"/>
<rect x="13" y="699" width="1538" height="1" fill="#474747"/>
<text x="1485.5" y="70.2" font-size="12.3" fill="#4e4e52" textLength="47.5" lengthAdjust="spacingAndGlyphs" >2080.00</text>
<text x="1485.5" y="136.9" font-size="12.3" fill="#4e4e52" textLength="47.5" lengthAdjust="spacingAndGlyphs" >2040.00</text>
<text x="1485.5" y="204.9" font-size="12.3" fill="#4e4e52" textLength="47.5" lengthAdjust="spacingAndGlyphs" >2000.00</text>
<text x="1485.5" y="274.9" font-size="12.3" fill="#4e4e52" textLength="47.5" lengthAdjust="spacingAndGlyphs" >1960.00</text>
<text x="1485.5" y="310.65" font-size="12.3" fill="#4e4e52" textLength="47.5" lengthAdjust="spacingAndGlyphs" >1940.00</text>
<text x="1485.5" y="346.4" font-size="12.3" fill="#4e4e52" textLength="47.5" lengthAdjust="spacingAndGlyphs" >1920.00</text>
<text x="1485.5" y="383.09999999999997" font-size="12.3" fill="#4e4e52" textLength="47.5" lengthAdjust="spacingAndGlyphs" >1900.00</text>
<text x="1485.5" y="418.5" font-size="12.3" fill="#4e4e52" textLength="47.5" lengthAdjust="spacingAndGlyphs" >1880.00</text>
<text x="1485.5" y="455.65" font-size="12.3" fill="#4e4e52" textLength="47.5" lengthAdjust="spacingAndGlyphs" >1860.00</text>
<text x="1485.5" y="493.65" font-size="12.3" fill="#4e4e52" textLength="47.5" lengthAdjust="spacingAndGlyphs" >1840.00</text>
<text x="1485.5" y="530.65" font-size="12.3" fill="#4e4e52" textLength="47.5" lengthAdjust="spacingAndGlyphs" >1820.00</text>
<text x="1485.5" y="569.4" font-size="12.3" fill="#4e4e52" textLength="47.5" lengthAdjust="spacingAndGlyphs" >1800.00</text>
<text x="1485" y="632.65" font-size="12.3" fill="#4e4e52" textLength="34.25" lengthAdjust="spacingAndGlyphs" >60.00</text>
<text x="1485" y="675.65" font-size="12.3" fill="#4e4e52" textLength="34.25" lengthAdjust="spacingAndGlyphs" >40.00</text>
<rect x="1480.8" y="38.5" width="64.5" height="31" rx="4.5" fill="#fff" stroke="#e6e8f0" stroke-width="1.2"/>
<path d="M1476 72.5h62a2 2 0 0 1 2 2v14a2 2 0 0 1 -2 2h-62z" fill="#ba68c8"/>
<text x="1486" y="86.3" font-size="13" fill="#fff" font-weight="700" textLength="48" lengthAdjust="spacingAndGlyphs" >2070.42</text>
<rect x="1416.1" y="339" width="58.7" height="18.5" rx="1.5" fill="#d75442"/>
<text x="1420.2" y="353.2" font-size="13.4" fill="#fff" textLength="49" lengthAdjust="spacingAndGlyphs" stroke="#fff" stroke-width="0.25">XAUUSD</text>
<path d="M1476.5 339h66a2 2 0 0 1 2 2v30.5a2 2 0 0 1 -2 2h-66z" fill="#d75442"/>
<text x="1487" y="354" font-size="13" fill="#fff" font-weight="700" textLength="47.2" lengthAdjust="spacingAndGlyphs" >1916.18</text>
<text x="1485.6" y="370.2" font-size="13" fill="#fff" textLength="53.7" lengthAdjust="spacingAndGlyphs" fill-opacity="0.82">01:26:14</text>
<text x="98.5" y="721.2" font-size="13" fill="#46464a" text-anchor="middle" font-weight="700" >Mar</text>
<text x="199.5" y="721.2" font-size="12.5" fill="#46464a" text-anchor="middle" >13</text>
<text x="386.5" y="721.2" font-size="13" fill="#46464a" text-anchor="middle" font-weight="700" >Apr</text>
<text x="512.5" y="721.2" font-size="12.5" fill="#46464a" text-anchor="middle" >17</text>
<text x="636.5" y="721.2" font-size="13" fill="#46464a" text-anchor="middle" font-weight="700" >May</text>
<text x="762.5" y="721.2" font-size="12.5" fill="#46464a" text-anchor="middle" >15</text>
<text x="923.5" y="721.2" font-size="13" fill="#46464a" text-anchor="middle" font-weight="700" >Jun</text>
<text x="1074.5" y="721.2" font-size="12.5" fill="#46464a" text-anchor="middle" >19</text>
<text x="1198.5" y="721.2" font-size="13" fill="#46464a" text-anchor="middle" font-weight="700" >Jul</text>
<text x="1324.5" y="721.2" font-size="12.5" fill="#46464a" text-anchor="middle" >17</text>
<text x="1461" y="721.2" font-size="13" fill="#46464a" text-anchor="middle" font-weight="700" >Aug</text>
<g fill="#131722"><path d="M13 749.6h9.8v12.4h-4.95v-7.4h-4.85z"/><circle cx="26.8" cy="752.3" r="2.7"/><path d="M32 749.6h5.5l-5.1 12.4h-5.4z"/></g>
<text x="41.8" y="762" font-size="15.6" fill="#2a2e39" textLength="88" lengthAdjust="spacingAndGlyphs" >TradingView</text>
<g transform="translate(1477.6,756.4)"><polygon points="-12.5,0 0,-12.5 0,0" fill="#b9b9b9"/><polygon points="0,-12.5 12.5,0 0,0" fill="#3c3433"/><polygon points="-12.5,0 0,12.5 0,0" fill="#d6c21f"/><polygon points="0,12.5 12.5,0 0,0" fill="#5c3b12"/><polygon points="-9,0 0,-9 9,0 0,9" fill="none" stroke="#2e2626" stroke-width="1.2" /><polygon points="-6.3,0 0,-6.3 6.3,0 0,6.3" fill="#fff"/><polygon points="-3.2,0 0,-3.2 3.2,0 0,3.2" fill="none" stroke="#7ab32e" stroke-width="1.3"/></g>
<filter id="sh" x="-20%" y="-50%" width="140%" height="200%"><feDropShadow dx="0" dy="0.6" stdDeviation="1.5" flood-color="#000" flood-opacity="0.85"/></filter>
<g filter="url(#sh)" fill="#fff" font-weight="700">
<text x="1496.2" y="754.6" font-size="9.8" fill="#fff" font-weight="700" textLength="57.7" lengthAdjust="spacingAndGlyphs" >SINO SOUND</text>
<text x="1496.2" y="764.3" font-size="7.8" font-family="Liberation Sans, Noto Sans CJK TC, sans-serif" textLength="57.7" lengthAdjust="spacing">漢 聲 集 團</text>
</g>
</svg>
</body></html>
